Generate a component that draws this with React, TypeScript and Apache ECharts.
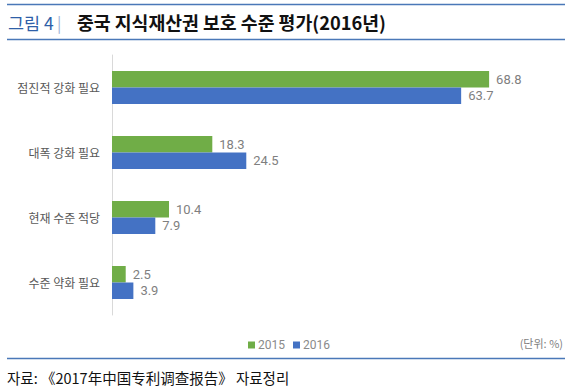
import React, { useEffect, useRef } from "react";
import * as echarts from "echarts";

const categories = ["점진적 강화 필요", "대폭 강화 필요", "현재 수준 적당", "수준 약화 필요"];
const values2015 = [68.8, 18.3, 10.4, 2.5];
const values2016 = [63.7, 24.5, 7.9, 3.9];
const seriesNames = ["2015", "2016"];

const FONT = "'Noto Sans CJK KR', 'Noto Sans', sans-serif";

export default function App() {
  const ref = useRef<HTMLDivElement>(null);
  useEffect(() => {
    const chart = echarts.init(ref.current!, null, { renderer: "svg" });
    const labelStyle = {
      show: true,
      position: "right" as const,
      distance: 7,
      color: "#7f7f7f",
      fontSize: 13,
      fontFamily: "Roboto, 'Noto Sans', sans-serif",
    };
    chart.setOption({
      animation: false,
      backgroundColor: "#ffffff",
      textStyle: { fontFamily: FONT },
      grid: { left: 112, right: 21.5, top: 55, bottom: 75 },
      xAxis: {
        type: "value",
        min: 0,
        max: 80,
        axisLine: { show: false },
        axisTick: { show: false },
        axisLabel: { show: false },
        splitLine: { show: false },
      },
      yAxis: {
        type: "category",
        data: categories,
        inverse: true,
        axisLine: { show: true, lineStyle: { color: "#d9d9d9", width: 1 } },
        axisTick: { show: false },
        axisLabel: { color: "#595959", fontSize: 12, margin: 12, fontFamily: FONT },
      },
      legend: {
        data: seriesNames,
        left: 243,
        top: 334,
        icon: "rect",
        itemWidth: 7,
        itemHeight: 7,
        itemGap: 8,
        textStyle: { color: "#8a8a8a", fontSize: 12, fontFamily: "Roboto, 'Noto Sans', sans-serif", padding: [0, 0, 0, -2] },
      },
      series: [
        {
          name: seriesNames[0],
          type: "bar",
          data: values2015,
          barWidth: 16.5,
          barGap: "0%",
          itemStyle: { color: "#70ad47" },
          label: labelStyle,
        },
        {
          name: seriesNames[1],
          type: "bar",
          data: values2016,
          barWidth: 16.5,
          barGap: "0%",
          itemStyle: { color: "#4472c4" },
          label: labelStyle,
        },
      ],
      graphic: [
        { type: "line", shape: { x1: 7, y1: 4.5, x2: 565, y2: 4.5 }, style: { stroke: "#4a78b8", lineWidth: 1.5 } },
        { type: "line", shape: { x1: 7, y1: 39.5, x2: 565, y2: 39.5 }, style: { stroke: "#4a78b8", lineWidth: 1.5 } },
        {
          type: "text",
          x: 8,
          y: 22,
          style: { text: "그림 4", fill: "#2f5fa8", fontSize: 17.5, fontFamily: FONT, verticalAlign: "middle" },
        },
        {
          type: "text",
          x: 57,
          y: 22,
          style: { text: "|", fill: "#9db3d6", fontSize: 16, fontFamily: FONT, verticalAlign: "middle" },
        },
        {
          type: "text",
          x: 77,
          y: 22,
          style: {
            text: "중국 지식재산권 보호 수준 평가(2016년)",
            fill: "#111111",
            fontSize: 18.3,
            fontWeight: "bold",
            fontFamily: FONT,
            verticalAlign: "middle",
          },
        },
        {
          type: "text",
          x: 563,
          y: 343,
          style: { text: "(단위: %)", fill: "#7f7f7f", fontSize: 11, fontFamily: FONT, align: "right", verticalAlign: "middle" },
        },
        { type: "line", shape: { x1: 7, y1: 358.5, x2: 565, y2: 358.5 }, style: { stroke: "#4a78b8", lineWidth: 1.5 } },
        {
          type: "text",
          x: 7,
          y: 377,
          style: {
            text: "자료: 《2017年中国专利调查报告》 자료정리",
            fill: "#111111",
            fontSize: 14.5,
            fontFamily: FONT,
            verticalAlign: "middle",
          },
        },
      ],
    });
    return () => chart.dispose();
  }, []);
  return <div ref={ref} style={{ position: "fixed", left: 0, top: 0, width: 572, height: 390 }} />;
}
